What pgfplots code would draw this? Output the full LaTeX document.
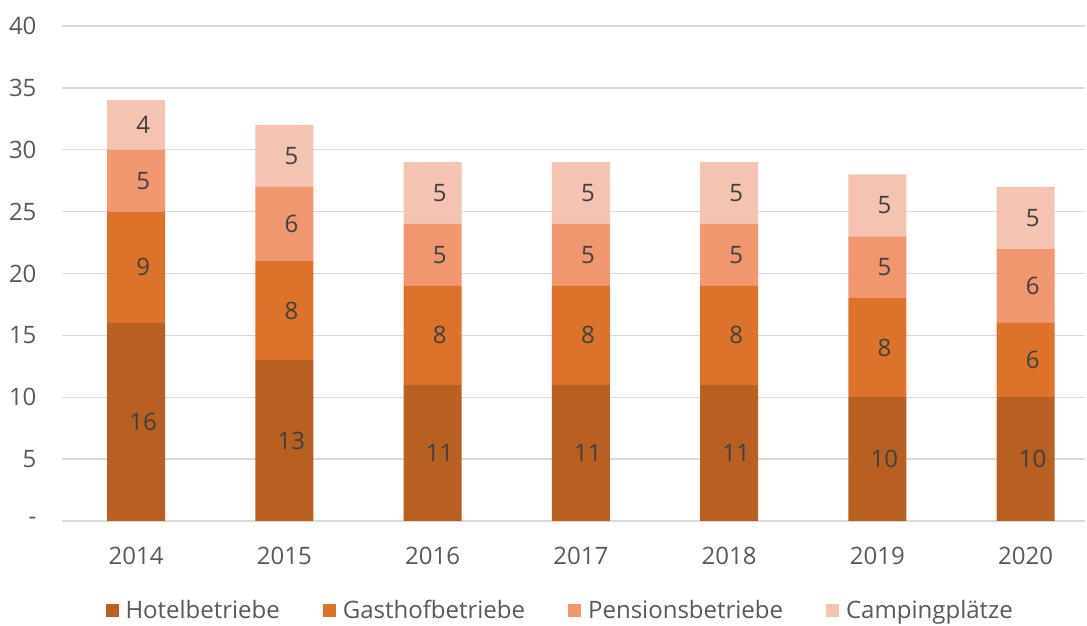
\documentclass[border=0pt]{standalone}
\usepackage{pgfplots}
\pgfplotsset{compat=1.18}
\usepackage{fontspec}
\setmainfont{Open Sans}
\definecolor{hotel}{HTML}{B86022}
\definecolor{gasthof}{HTML}{DD732B}
\definecolor{pension}{HTML}{F09770}
\definecolor{camping}{HTML}{F5C3B1}
\definecolor{txt}{HTML}{595959}
\definecolor{lbl}{HTML}{404040}
\definecolor{gridc}{HTML}{D9D9D9}
\begin{document}
\begin{tikzpicture}
\useasboundingbox (0,0) rectangle (1087pt,626pt);
\begin{axis}[
  at={(62pt,105pt)}, anchor=south west,
  scale only axis, width=1023pt, height=495pt,
  ybar stacked, bar width=58pt,
  xmin=-0.5, xmax=6.4, ymin=0, ymax=40,
  xtick={0,1,2,3,4,5,6}, xticklabels={2014,2015,2016,2017,2018,2019,2020},
  ytick={0,5,10,15,20,25,30,35,40}, yticklabels={-,5,10,15,20,25,30,35,40},
  ymajorgrids, grid style={gridc, line width=1.3pt},
  axis line style={draw=none}, major tick length=0pt,
  /pgf/number format/assume math mode=true,
  tick label style={font=\fontsize{24}{28}\selectfont, text=txt},
  yticklabel style={xshift=-22pt},
  xticklabel style={yshift=-23pt},
  point meta=explicit,
  nodes near coords,
  every node near coord/.append style={anchor=center, xshift=7pt, font=\fontsize{24}{28}\selectfont, text=lbl},
  legend columns=4,
  legend style={at={(0.487,-0.18)}, anchor=center, draw=none, font=\fontsize{24}{28}\selectfont, text=txt, /tikz/every even column/.append style={column sep=41pt}},
  legend image code/.code={\fill[#1] (0pt,-6.5pt) rectangle (13pt,6.5pt); \path (18pt,0pt);},
]
\addplot[fill=hotel, draw=none] coordinates {(0,16) [16] (1,13) [13] (2,11) [11] (3,11) [11] (4,11) [11] (5,10) [10] (6,10) [10]};
\addplot[fill=gasthof, draw=none] coordinates {(0,9) [9] (1,8) [8] (2,8) [8] (3,8) [8] (4,8) [8] (5,8) [8] (6,6) [6]};
\addplot[fill=pension, draw=none] coordinates {(0,5) [5] (1,6) [6] (2,5) [5] (3,5) [5] (4,5) [5] (5,5) [5] (6,6) [6]};
\addplot[fill=camping, draw=none] coordinates {(0,4) [4] (1,5) [5] (2,5) [5] (3,5) [5] (4,5) [5] (5,5) [5] (6,5) [5]};
\legend{Hotelbetriebe,Gasthofbetriebe,Pensionsbetriebe,Campingplätze}
\end{axis}
\end{tikzpicture}
\end{document}
